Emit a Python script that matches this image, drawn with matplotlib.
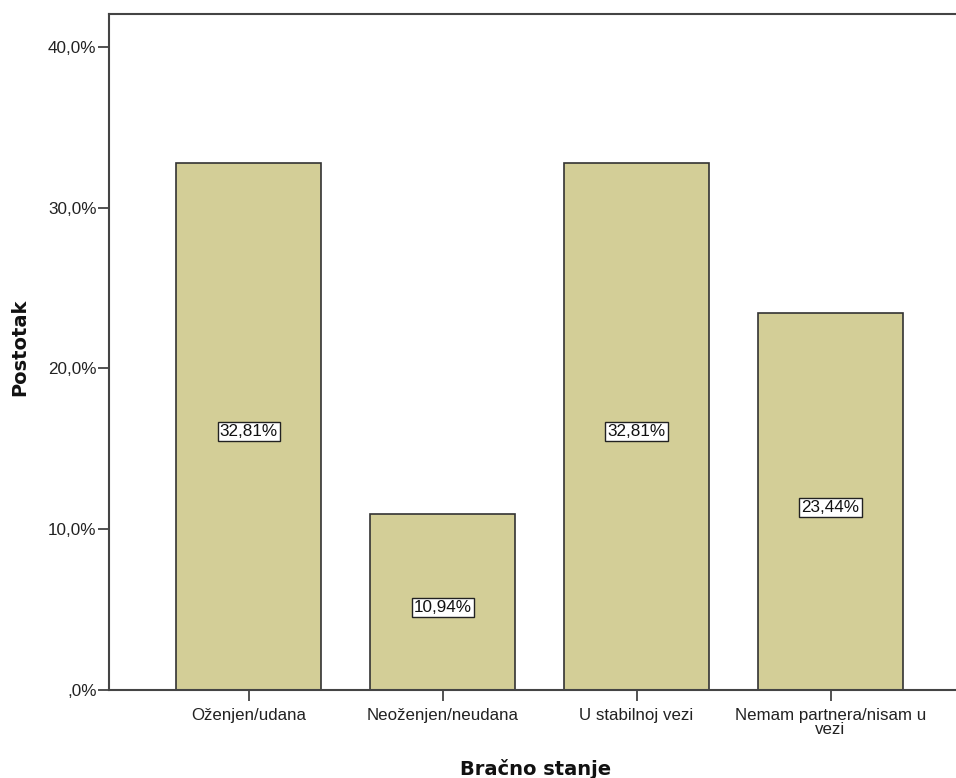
import matplotlib
matplotlib.use("Agg")
import matplotlib.pyplot as plt
from matplotlib.ticker import FuncFormatter

categories = ["Oženjen/udana", "Neoženjen/neudana", "U stabilnoj vezi", "Nemam partnera/nisam u\nvezi"]
values = [32.81, 10.94, 32.81, 23.44]
bar_labels = ["32,81%", "10,94%", "32,81%", "23,44%"]
yticks = [0, 10, 20, 30, 40]

W, H = 956, 778
fig = plt.figure(figsize=(W / 100, H / 100), dpi=100)
ax = fig.add_axes([109 / W, 88 / H, (W - 109) / W, (690 - 14) / H])

x = list(range(len(categories)))
ax.bar(x, values, width=0.75, color="#D3CE97", edgecolor="#333333", linewidth=1.2, zorder=2)

for xi, v, lab in zip(x, values, bar_labels):
    ax.annotate(lab, (xi, v / 2), xytext=(0, -4), textcoords="offset points",
                ha="center", va="center", fontsize=12.3, family="Liberation Sans", color="#111111",
                bbox=dict(boxstyle="square,pad=0.12", facecolor="white", edgecolor="#222222", linewidth=1.0),
                zorder=3)


def fmt(v, p):
    s = ("%.1f%%" % v).replace(".", ",")
    return ",0%" if v == 0 else s


ax.set_xlim(-0.72, 3.647)
ax.set_ylim(0, 42.05)
ax.set_yticks(yticks)
ax.yaxis.set_major_formatter(FuncFormatter(fmt))
ax.set_xticks(x)
ax.set_xticklabels(categories, fontsize=12.2, family="Liberation Sans", linespacing=0.88)
for t in ax.get_yticklabels():
    t.set_fontsize(12.3)
    t.set_family("Liberation Sans")

ax.tick_params(axis="both", direction="out", length=8, width=1.3, color="#444444", labelcolor="#222222")
ax.tick_params(axis="y", pad=1)
ax.tick_params(axis="x", pad=5)

for s in ["left", "bottom", "top"]:
    ax.spines[s].set_color("#444444")
    ax.spines[s].set_linewidth(1.5)
ax.spines["right"].set_visible(False)

fig.text(536 / W, 1 - 769 / H, "Bračno stanje", fontsize=14, fontweight="bold", family="DejaVu Sans",
         ha="center", va="center", color="#111111")
fig.text(20 / W, 1 - 347 / H, "Postotak", fontsize=14, fontweight="bold", family="DejaVu Sans",
         ha="center", va="center", rotation=90, color="#111111")

fig.savefig("out.png", dpi=100)
